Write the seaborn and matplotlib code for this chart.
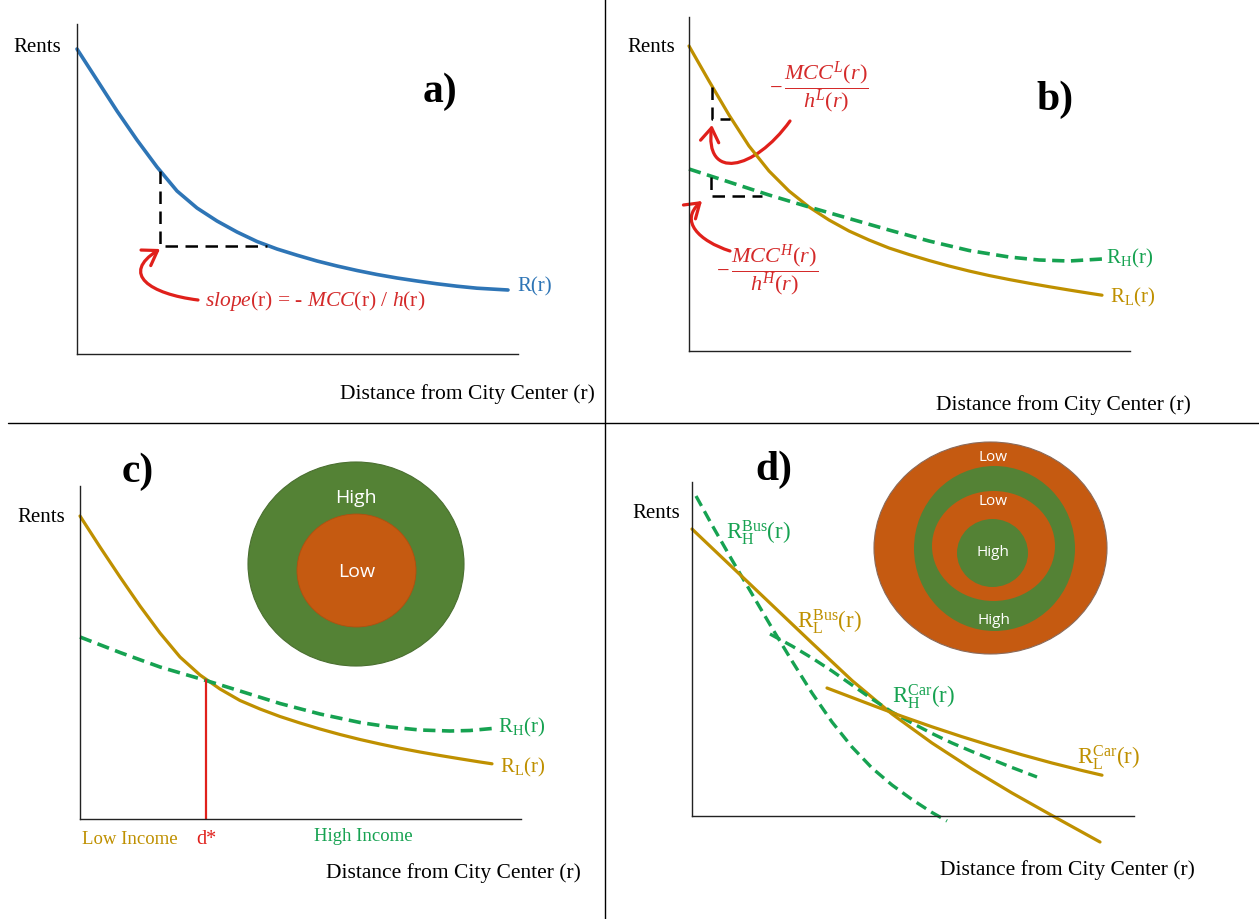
import numpy as np
import pandas as pd
import seaborn as sns
import matplotlib
matplotlib.use("Agg")
import matplotlib.pyplot as plt
from matplotlib.patches import Ellipse, FancyArrowPatch
from matplotlib.path import Path
from matplotlib.lines import Line2D

# ---------------- data (units: distance r, rent R) ----------------
# Panel a
a_r = [0, 2, 4, 6, 8, 10, 12, 14, 16, 18, 20, 22, 24, 26, 28, 30, 32, 34, 36, 38, 40, 43.1]
a_R = [30.5, 27.4, 24.3, 21.4, 18.7, 16.3, 14.6, 13.3, 12.2, 11.25, 10.5, 9.88, 9.3,
       8.8, 8.35, 7.95, 7.6, 7.3, 7.02, 6.78, 6.58, 6.4]
a_tri_r = [8.3, 8.3, 19.0]
a_tri_R = [18.3, 10.8, 10.8]
a_arrow = [(12.1, 5.4), (7.3, 6.0), (4.3, 8.0), (8.3, 10.5)]

# Panel b
b_L_r = [0, 2, 4, 6, 8, 10, 12, 14, 16, 18, 20, 22, 24, 26, 28, 30, 32, 34, 36, 38, 40, 41.3]
b_L_R = [30.5, 27.0, 23.6, 20.5, 18.0, 16.0, 14.4, 13.1, 12.0, 11.1, 10.3, 9.65, 9.05,
         8.5, 8.0, 7.55, 7.15, 6.78, 6.43, 6.1, 5.78, 5.58]
b_H_r = [0, 4, 8, 12, 16, 20, 24, 28, 32, 35, 38, 41.3]
b_H_R = [18.2, 16.9, 15.6, 14.4, 13.25, 12.1, 11.0, 10.05, 9.4, 9.1, 9.0, 9.2]
b_triL_r = [2.3, 2.3, 4.1]
b_triL_R = [26.4, 23.2, 23.2]
b_triH_r = [2.2, 2.2, 7.3]
b_triH_R = [17.4, 15.5, 15.5]
b_arrowL = [(10.1, 23.0), (6.5, 18.0), (1.5, 17.0), (2.3, 22.6)]
b_arrowH = [(4.1, 10.0), (1.0, 11.0), (-1.0, 13.0), (1.3, 15.0)]

# Panel c
c_L_r = [0, 2, 4, 6, 8, 10, 12, 14, 16, 18, 20, 22, 24, 26, 28, 30, 32, 34, 36, 38, 40, 41.2]
c_L_R = [30.3, 27.2, 24.2, 21.3, 18.6, 16.2, 14.4, 13.0, 11.85, 11.0, 10.25, 9.6, 9.0,
         8.45, 7.95, 7.5, 7.08, 6.7, 6.35, 6.02, 5.7, 5.52]
c_H_r = [0, 4, 8, 12.6, 16, 20, 24, 28, 31, 34, 37, 39, 41.2]
c_H_R = [18.2, 16.65, 15.2, 13.85, 12.8, 11.55, 10.5, 9.65, 9.2, 8.9, 8.8, 8.85, 9.05]
c_dstar = 12.6
c_dstar_R = 13.9

# Panel d
d_HB_r = [0.4, 2, 4, 6, 8, 10, 12, 14, 16, 18, 20, 22, 24, 25.5]
d_HB_R = [32.0, 29.1, 25.6, 22.2, 18.8, 15.5, 12.3, 9.4, 6.9, 4.8, 3.1, 1.65, 0.35, -0.5]
d_LB_r = [0, 4, 8, 12, 16, 20, 24, 28, 32, 36, 40.8]
d_LB_R = [28.7, 24.9, 21.1, 17.3, 13.55, 10.2, 7.3, 4.7, 2.3, 0.05, -2.6]
d_HC_r = [7.8, 10, 12, 14, 16, 18, 20, 22, 24, 26, 28, 30, 32, 34.5]
d_HC_R = [18.2, 17.0, 15.8, 14.5, 13.1, 11.7, 10.4, 9.3, 8.25, 7.3, 6.45, 5.65, 4.85, 3.9]
d_LC_r = [13.5, 16, 18.5, 21, 24, 27, 30, 33, 36, 39, 41]
d_LC_R = [12.8, 11.85, 10.9, 9.97, 8.92, 7.93, 7.0, 6.12, 5.3, 4.55, 4.08]

# city rings, outer to inner
c_rings = ["High", "Low"]
d_rings = ["Low", "High", "Low", "High"]

# ---------------- style ----------------
sns.set_theme(style="white")
plt.rcParams['font.family'] = ['Liberation Serif', 'DejaVu Serif']
plt.rcParams['mathtext.fontset'] = 'custom'
plt.rcParams['mathtext.rm'] = 'Liberation Serif'
plt.rcParams['mathtext.it'] = 'Liberation Serif:italic'
plt.rcParams['mathtext.bf'] = 'Liberation Serif:bold'

BLUE = "#2E75B6"
GOLD = "#BF9000"
GREEN = "#16A251"
RED = "#E0201B"
TXTRED = "#D42A2A"
DGREEN = "#548235"
ORANGE = "#C55A11"

W, H = 1259, 920
fig = plt.figure(figsize=(W / 100, H / 100), dpi=100)
fig.patch.set_facecolor("white")


def make_ax(left, top, w, h):
    ax = fig.add_axes([left / W, 1 - (top + h) / H, w / W, h / H])
    ax.set_facecolor("none")
    ax.set_xlim(0, w / 10)
    ax.set_ylim(0, h / 10)
    for s in ["top", "right"]:
        ax.spines[s].set_visible(False)
    for s in ["left", "bottom"]:
        ax.spines[s].set_color("#222222")
        ax.spines[s].set_linewidth(1.0)
    ax.set_xticks([])
    ax.set_yticks([])
    return ax


def curve(ax, x, y, color, dashed=False, lw=2.3):
    kw = dict(linestyle=(0, (3.4, 1.8))) if dashed else {}
    sns.lineplot(x=x, y=y, ax=ax, color=color, lw=lw, estimator=None,
                 sort=False, clip_on=False, solid_joinstyle="round",
                 dash_joinstyle="round", **kw)
    ax.set_xlabel("")
    ax.set_ylabel("")


def tri(ax, x, y):
    ax.plot(x, y, color="black", lw=1.8, linestyle=(0, (5, 3)), clip_on=False)


def arrow(ax, pts):
    p = Path(pts, [Path.MOVETO, Path.CURVE4, Path.CURVE4, Path.CURVE4])
    a = FancyArrowPatch(path=p, arrowstyle="->,head_length=0.45,head_width=0.3",
                        mutation_scale=22, color=RED, lw=2.3, clip_on=False)
    ax.add_patch(a)


def ring(ax, xy, w, h, color, ec="none", lw=0.0):
    ax.add_patch(Ellipse(xy, w, h, facecolor=color, edgecolor=ec, lw=lw, clip_on=False))


def common(ax, letter, lx, ly, rents_xy, dist_xy):
    ax.text(*rents_xy, "Rents", ha="center", va="center", fontsize=15, color="black")
    ax.text(lx, ly, letter, ha="center", va="center", fontsize=30,
            fontweight="bold", color="black")
    ax.text(*dist_xy, "Distance from City Center (r)", ha="center", va="center",
            fontsize=15.5, color="black")


# ---------------- panel a ----------------
axa = make_ax(77, 25, 441, 330)
curve(axa, a_r, a_R, BLUE, lw=2.6)
tri(axa, a_tri_r, a_tri_R)
arrow(axa, a_arrow)
axa.text(12.8, 5.4,
         r"$\mathit{slope}\text{(r) = - }\mathit{MCC}\text{(r) / }\mathit{h}\text{(r)}$",
         ha="left", va="center", fontsize=15.5, color=TXTRED)
axa.text(44.0, 6.8, "R(r)", ha="left", va="center", fontsize=15, color=BLUE)
common(axa, "a)", 36.3, 26.3, (-4.0, 30.8), (39.05, -3.9))

# ---------------- panel b ----------------
axb = make_ax(689, 18, 441, 334)
curve(axb, b_L_r, b_L_R, GOLD)
curve(axb, b_H_r, b_H_R, GREEN, dashed=True, lw=2.6)
tri(axb, b_triL_r, b_triL_R)
tri(axb, b_triH_r, b_triH_R)
arrow(axb, b_arrowL)
arrow(axb, b_arrowH)
axb.text(13.0, 26.5, r"$-\,\dfrac{MCC^{L}(r)}{h^{L}(r)}$", ha="center", va="center",
         fontsize=16, color=TXTRED)
axb.text(7.8, 8.2, r"$-\,\dfrac{MCC^{H}(r)}{h^{H}(r)}$", ha="center", va="center",
         fontsize=16, color=TXTRED)
axb.text(41.7, 9.4, r"$\mathrm{R}_{\mathrm{H}}\mathrm{(r)}$", ha="left", va="center",
         fontsize=15, color=GREEN)
axb.text(42.1, 5.5, r"$\mathrm{R}_{\mathrm{L}}\mathrm{(r)}$", ha="left", va="center",
         fontsize=15, color=GOLD)
common(axb, "b)", 36.6, 25.2, (-3.8, 30.4), (37.4, -5.3))

# ---------------- panel c ----------------
axc = make_ax(80, 487, 441, 333)
ring(axc, (27.6, 25.5), 21.6, 20.4, DGREEN, ec="#4a6f30", lw=0.8)
ring(axc, (27.65, 24.85), 11.9, 11.3, ORANGE, ec="#b05010", lw=0.6)
axc.text(27.6, 32.2, c_rings[0], ha="center", va="center", fontsize=14,
         color="white", family="Open Sans")
axc.text(27.7, 24.8, c_rings[1], ha="center", va="center", fontsize=14,
         color="white", family="Open Sans")
curve(axc, c_L_r, c_L_R, GOLD)
curve(axc, c_H_r, c_H_R, GREEN, dashed=True, lw=2.6)
axc.plot([c_dstar, c_dstar], [0, c_dstar_R], color=RED, lw=1.6)
axc.text(41.8, 9.3, r"$\mathrm{R}_{\mathrm{H}}\mathrm{(r)}$", ha="left", va="center",
         fontsize=15, color=GREEN)
axc.text(42.0, 5.3, r"$\mathrm{R}_{\mathrm{L}}\mathrm{(r)}$", ha="left", va="center",
         fontsize=15, color=GOLD)
axc.text(4.95, -2.0, "Low Income", ha="center", va="center", fontsize=13.5, color=GOLD)
axc.text(c_dstar, -2.0, "d*", ha="center", va="center", fontsize=14.5, color=RED)
axc.text(28.35, -1.7, "High Income", ha="center", va="center", fontsize=13.5, color=GREEN)
common(axc, "c)", 5.8, 34.8, (-3.85, 30.2), (37.35, -5.3))

# ---------------- panel d ----------------
axd = make_ax(692, 483, 442, 334)
ring(axd, (29.85, 26.8), 23.3, 21.2, ORANGE, ec="#8a6a5a", lw=0.8)
ring(axd, (30.25, 26.75), 16.1, 16.5, DGREEN)
ring(axd, (30.15, 27.0), 12.3, 11.0, ORANGE)
ring(axd, (30.05, 26.3), 7.1, 6.8, DGREEN)
for lab, (x, y) in zip(d_rings, [(30.1, 35.9), (30.2, 19.7), (30.1, 31.5), (30.1, 26.5)]):
    axd.text(x, y, lab, ha="center", va="center", fontsize=11, color="white",
             family="Open Sans")
curve(axd, d_HB_r, d_HB_R, GREEN, dashed=True, lw=2.4)
curve(axd, d_LB_r, d_LB_R, GOLD)
curve(axd, d_HC_r, d_HC_R, GREEN, dashed=True, lw=2.4)
curve(axd, d_LC_r, d_LC_R, GOLD)
axd.text(3.4, 28.4, r"$\mathrm{R}_{\mathrm{H}}^{\mathrm{Bus}}\mathrm{(r)}$", ha="left",
         va="center", fontsize=16.5, color=GREEN)
axd.text(10.5, 19.5, r"$\mathrm{R}_{\mathrm{L}}^{\mathrm{Bus}}\mathrm{(r)}$", ha="left",
         va="center", fontsize=16.5, color=GOLD)
axd.text(20.0, 12.0, r"$\mathrm{R}_{\mathrm{H}}^{\mathrm{Car}}\mathrm{(r)}$", ha="left",
         va="center", fontsize=16.5, color=GREEN)
axd.text(38.5, 5.9, r"$\mathrm{R}_{\mathrm{L}}^{\mathrm{Car}}\mathrm{(r)}$", ha="left",
         va="center", fontsize=16.5, color=GOLD)
common(axd, "d)", 8.2, 34.7, (-3.6, 30.4), (37.55, -5.3))

# ---------------- dividers ----------------
fig.add_artist(Line2D([605 / W, 605 / W], [0, 1], color="black", lw=1.0))
fig.add_artist(Line2D([8 / W, 1], [1 - 424 / H, 1 - 424 / H], color="black", lw=1.0))

fig.savefig("out.png", dpi=100)
